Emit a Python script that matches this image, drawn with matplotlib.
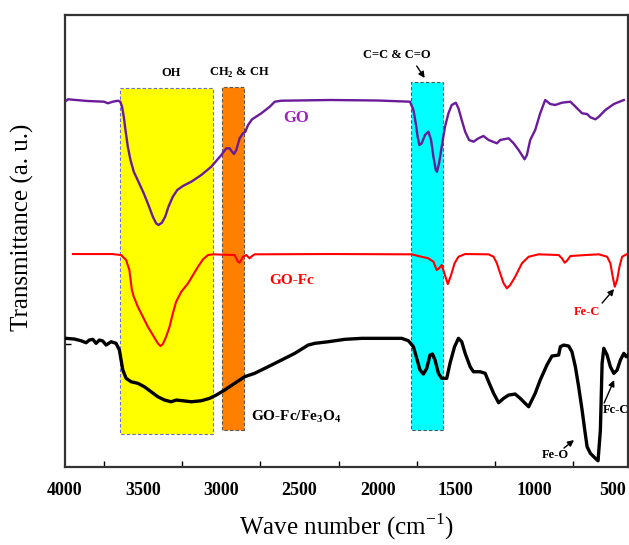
import matplotlib
matplotlib.use('Agg')
import matplotlib.pyplot as plt
from matplotlib.patches import Rectangle

plt.rcParams['font.family'] = 'Liberation Serif'
plt.rcParams['mathtext.fontset'] = 'custom'
plt.rcParams['mathtext.rm'] = 'Liberation Serif'
plt.rcParams['mathtext.bf'] = 'Liberation Serif:bold'

# GO spectrum (wavenumber cm-1, transmittance a.u.)
go_x = [3994, 3981, 3855, 3750, 3726, 3694, 3662, 3646, 3635, 3624, 3613, 3598,
        3581, 3560, 3530, 3496, 3466, 3438, 3417, 3402, 3380, 3359, 3338, 3310,
        3282, 3246, 3192, 3128, 3064, 3000, 2968, 2947, 2931, 2919, 2904, 2883,
        2861, 2846, 2829, 2803, 2744, 2690, 2658, 2615, 2300, 2000, 1793, 1771,
        1756, 1744, 1733, 1718, 1697, 1675, 1658, 1643, 1628, 1620, 1607, 1590,
        1569, 1547, 1526, 1500, 1483, 1462, 1440, 1415, 1387, 1355, 1323, 1290,
        1237, 1216, 1162, 1130, 1098, 1060, 1045, 1024, 992, 960, 928, 896, 864,
        821, 767, 724, 692, 660, 639, 607, 585, 543, 489, 425]
go_y = [366, 367.7, 366, 365.3, 363.7, 365.3, 366.3, 365.3, 360.3, 350.3, 337, 320.3,
        307, 295.3, 285.3, 273.7, 262, 250.3, 243.7, 242, 244.3, 250.3, 260.3, 270.3,
        277, 281, 285.3, 292, 300.3, 312, 318.7, 318.7, 315.3, 313, 317, 328.7,
        333.7, 335.3, 342, 347.7, 353.7, 360.3, 365.3, 366.3, 367, 366.5, 365.3, 357,
        343.7, 330.3, 322, 323.7, 332, 335.3, 327, 310.3, 297, 295.3, 303.7, 320.3,
        340.3, 353.7, 362, 364.3, 358.7, 347, 335.3, 327, 325.3, 328.7, 331, 327,
        323.7, 327, 328.7, 323.7, 317, 307.7, 312, 327, 337, 353.7, 367, 363, 362,
        364.3, 365.3, 358.7, 353.7, 353, 349.7, 347.7, 350.3, 357, 363, 367]

# GO-Fc spectrum
gofc_x = [3949, 3700, 3641, 3609, 3588, 3572, 3560, 3534, 3502, 3470, 3438, 3406,
          3389, 3374, 3353, 3331, 3310, 3289, 3256, 3213, 3181, 3149, 3117, 3085,
          3053, 2915, 2893, 2883, 2861, 2840, 2819, 2803, 2787, 2300, 1782, 1739,
          1675, 1643, 1622, 1607, 1590, 1573, 1551, 1530, 1508, 1483, 1440, 1290,
          1258, 1237, 1216, 1194, 1173, 1152, 1120, 1077, 1034, 970, 842, 821, 803,
          789, 767, 671, 585, 532, 511, 496, 483, 468, 453, 436, 404]
gofc_y = [213, 213, 212, 207, 197, 177, 170.3, 160.3, 150.3, 140.3, 132, 123.7,
          121, 123, 130.3, 140.3, 153.7, 165.3, 175.3, 183.7, 192, 200.3, 207.7, 212,
          212.7, 212, 205.3, 204.3, 210.3, 212, 208.7, 211, 212.7, 213, 212.7, 211,
          208.7, 205.3, 197, 198.7, 202, 193.7, 183, 192, 203.7, 210.3, 213, 212.7,
          210.3, 203.7, 193.7, 183.7, 178.7, 182, 190.3, 203.7, 210.3, 212.7, 212, 208.7, 204.3,
          206.3, 211, 212, 212.7, 210.3, 203.7, 190.3, 180.3, 187, 200.3, 210.3, 213]

# GO-Fc/Fe3O4 spectrum
gofe_x = [3994, 3940, 3897, 3865, 3844, 3822, 3801, 3780, 3758, 3737, 3705, 3673,
          3652, 3641, 3630, 3609, 3577, 3534, 3492, 3449, 3406, 3363, 3321, 3288,
          3246, 3192, 3128, 3075, 3032, 2979, 2915, 2851, 2787, 2701, 2615, 2530,
          2444, 2402, 2316, 2210, 2103, 1846, 1803, 1771, 1750, 1729, 1707, 1686,
          1665, 1649, 1633, 1611, 1590, 1558, 1537, 1508, 1483, 1462, 1440, 1408,
          1387, 1344, 1312, 1290, 1258, 1226, 1194, 1162, 1120, 1088, 1056, 1034,
          1013, 992, 960, 917, 885, 842, 831, 810, 778, 757, 735, 714, 692, 675,
          660, 639, 607, 590, 575, 564, 553, 532, 511, 489, 468, 447, 425, 410, 400]
gofe_y = [128.7, 128, 126.3, 124.3, 127, 127.7, 123.7, 127, 126, 122, 125.3, 123.7,
          117, 107, 97, 88.7, 85.3, 83.7, 80.3, 75.3, 70.3, 67, 65.3, 67,
          66.3, 65.3, 66.3, 68.7, 72, 77, 83.7, 90.3, 93.7, 100.3, 107, 113.7,
          122, 123.7, 125.3, 127.7, 128.7, 128.7, 126.3, 120.3, 108.7, 97, 93, 98.7,
          112, 113, 107, 93.7, 88.7, 88.7, 103.7, 120.3, 128.7, 125.3, 113.7, 100.3,
          95.3, 95.3, 93.7, 85.3, 73.7, 64.3, 68.7, 72, 73, 68.7, 63.7, 60.3,
          67, 73.7, 87, 102, 111, 112, 120.3, 122, 121, 115.3, 100.3, 80.3, 57, 37,
          20.3, 13.7, 8.7, 6.3, 37, 103.7, 118.7, 112, 100.3, 93.7, 97, 107, 113.7, 110.3, 112]

# band regions
bands_x0 = [3647, 2994, 1789]
bands_x1 = [3051, 2853, 1583]
bands_y0 = [33, 37, 37]
bands_y1 = [379, 380, 385]
band_face = ['#ffff00', '#ff8000', '#00ffff']
band_edge = ['#6b6bd6', '#555555', '#555555']

fig = plt.figure(figsize=(6.29, 5.45), dpi=100)
ax = fig.add_axes([0.1033, 0.143, 0.8947, 0.8295])

for x0, x1, y0, y1, fc, ec in zip(bands_x0, bands_x1, bands_y0, bands_y1, band_face, band_edge):
    ax.add_patch(Rectangle((x1, y0), x0 - x1, y1 - y0, facecolor=fc,
                           edgecolor=ec, linestyle=(0, (3, 2)), linewidth=0.8, zorder=1))

ax.plot(go_x, go_y, color='#6a1b9a', lw=1.7, zorder=3)
ax.plot(gofc_x, gofc_y, color='#ff0000', lw=1.5, zorder=3)
ax.plot(gofe_x, gofe_y, color='black', lw=2.4, zorder=3)

bold = dict(fontweight='bold', fontsize=9)
arrow = dict(arrowstyle='-|>', color='black', lw=1, mutation_scale=9, shrinkA=0, shrinkB=0)
ax.text(3321, 394, 'OH', ha='center', va='center', **bold)
ax.text(2885, 394, r'CH$_\mathbf{2}$ & CH', ha='center', va='center', **bold)
ax.text(1878, 412, 'C=C & C=O', ha='center', va='center', **bold)
ax.annotate('', xy=(1699, 389), xytext=(1750, 401), arrowprops=arrow)
ax.text(2519, 349, 'GO', ha='center', va='center', color='#a020c0', fontweight='bold', fontsize=12)
ax.text(2551, 187, 'GO-Fc', ha='center', va='center', color='#ff0000', fontweight='bold', fontsize=11)
ax.text(660, 155, 'Fe-C', ha='center', va='center', color='#ff0000', **bold)
ax.annotate('', xy=(487, 178), xytext=(564, 164), arrowprops=arrow)
ax.text(2808, 50, r'GO-Fc/Fe$_\mathbf{3}$O$_\mathbf{4}$', ha='left', va='center',
        fontweight='bold', fontsize=11)
ax.text(860, 12, 'Fe-O', ha='center', va='center', **bold)
ax.annotate('', xy=(744, 27), xytext=(808, 19), arrowprops=arrow)
ax.text(560, 57, 'Fc-C', ha='left', va='center', **bold)
ax.annotate('', xy=(487, 87), xytext=(551, 64), arrowprops=arrow)

ax.set_xlim(4000, 400)
ax.set_ylim(0, 452)
ax.set_xticks([4000, 3500, 3000, 2500, 2000, 1500, 1000, 500])
ax.set_xticks([3750, 3250, 2750, 2250, 1750, 1250, 750], minor=True)
ax.set_yticks([123])
ax.set_yticklabels([])
ax.tick_params(axis='x', which='major', length=0, pad=11, labelsize=13)
ax.tick_params(axis='x', which='minor', direction='in', length=4, width=1)
ax.tick_params(axis='y', direction='in', length=4, width=1)
for lab in ax.get_xticklabels():
    lab.set_fontweight('bold')
for s in ax.spines.values():
    s.set_linewidth(1.6)
    s.set_color('#333333')

ax.set_xlabel('Wave number (cm$^{-1}$)', fontsize=18, labelpad=9)
ax.set_ylabel('Transmittance (a. u.)', fontsize=18)
ax.yaxis.set_label_coords(-0.055, 0.53)

fig.savefig('out.png', dpi=100)
